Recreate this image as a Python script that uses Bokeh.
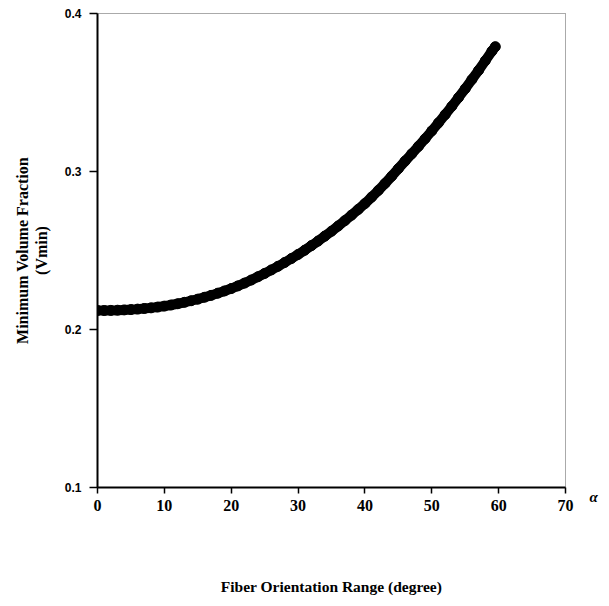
from bokeh.plotting import figure
from bokeh.models import Range1d, FixedTicker, LinearAxis
from bokeh.embed import file_html
from bokeh.resources import INLINE

# Fiber orientation range alpha (degree) and minimum volume fraction Vmin
alpha = [0, 1, 2, 3, 4, 5, 6, 7, 8, 9,
         10, 11, 12, 13, 14, 15, 16, 17, 18, 19,
         20, 21, 22, 23, 24, 25, 26, 27, 28, 29,
         30, 31, 32, 33, 34, 35, 36, 37, 38, 39,
         40, 41, 42, 43, 44, 45, 46, 47, 48, 49,
         50, 51, 52, 53, 54, 55, 56, 57, 58, 59, 59.5]
vmin = [0.2120, 0.2120, 0.2121, 0.2122, 0.2124, 0.2126, 0.2129, 0.2133, 0.2137, 0.2142,
        0.2148, 0.2155, 0.2163, 0.2172, 0.2182, 0.2192, 0.2204, 0.2216, 0.2230, 0.2244,
        0.2259, 0.2276, 0.2294, 0.2313, 0.2334, 0.2355, 0.2377, 0.2400, 0.2424, 0.2449,
        0.2475, 0.2502, 0.2531, 0.2560, 0.2591, 0.2622, 0.2655, 0.2689, 0.2724, 0.2760,
        0.2797, 0.2838, 0.2880, 0.2924, 0.2970, 0.3018, 0.3066, 0.3112, 0.3159, 0.3207,
        0.3257, 0.3308, 0.3360, 0.3413, 0.3468, 0.3524, 0.3582, 0.3640, 0.3701, 0.3762, 0.3790]

x_ticks = [0, 10, 20, 30, 40, 50, 60, 70]
y_ticks = [0.1, 0.2, 0.3, 0.4]

x_title = "Fiber Orientation Range (degree)"
y_title = "Minimum Volume Fraction\n(Vmin)"
x_symbol = "\u03b1"

p = figure(frame_width=468, frame_height=474,
           min_border_left=97, min_border_right=40,
           min_border_top=13, min_border_bottom=110,
           x_range=Range1d(0, 70), y_range=Range1d(0.1, 0.4),
           output_backend="svg", toolbar_location=None,
           background_fill_color="white", border_fill_color="white")

p.grid.visible = False
p.outline_line_color = "#555555"
p.outline_line_dash = "1 1"
p.outline_line_width = 1

p.xaxis.ticker = FixedTicker(ticks=x_ticks)
p.yaxis.ticker = FixedTicker(ticks=y_ticks)
for ax in (p.xaxis[0], p.yaxis[0]):
    ax.axis_line_color = "black"
    ax.axis_line_width = 2
    ax.major_tick_line_color = "black"
    ax.major_tick_line_width = 1.5
    ax.major_tick_in = 0
    ax.major_tick_out = 6
    ax.minor_tick_line_color = None
    ax.major_label_text_color = "black"
    ax.axis_label_text_font = "Liberation Serif"
    ax.axis_label_text_font_style = "bold"
    ax.axis_label_text_color = "black"

p.xaxis.major_label_text_font = "Liberation Serif"
p.xaxis.major_label_text_font_style = "bold"
p.xaxis.major_label_text_font_size = "16px"
p.xaxis.major_label_standoff = 6
p.xaxis.axis_label = x_title
p.xaxis.axis_label_text_font_size = "15.5px"
p.xaxis.axis_label_standoff = 64

p.yaxis.major_label_text_font = "Liberation Sans"
p.yaxis.major_label_text_font_style = "bold"
p.yaxis.major_label_text_font_size = "12px"
p.yaxis.major_label_standoff = 8
p.yaxis.major_tick_out = 8
p.yaxis.axis_label = y_title
p.yaxis.axis_label_text_font_size = "16px"
p.yaxis.axis_label_text_line_height = 1.1
p.yaxis.axis_label_standoff = 12

# the alpha symbol beside the x axis end, drawn as a bare right-hand axis label
alpha_axis = LinearAxis(ticker=FixedTicker(ticks=[y_ticks[0]]),
                        major_label_overrides={y_ticks[0]: "\n" + x_symbol},
                        axis_line_color=None, major_tick_line_color=None,
                        minor_tick_line_color=None,
                        major_tick_in=0, major_tick_out=0,
                        major_label_standoff=24,
                        major_label_text_font="Liberation Serif",
                        major_label_text_font_style="bold italic",
                        major_label_text_font_size="15px",
                        major_label_text_color="black")
p.add_layout(alpha_axis, "right")

p.line(alpha, vmin, line_width=10, line_color="black",
       line_cap="round", line_join="round")
p.scatter(alpha, vmin, size=10, marker="circle",
          fill_color="black", line_color="black")

open("out.html", "w").write(file_html(p, INLINE))
